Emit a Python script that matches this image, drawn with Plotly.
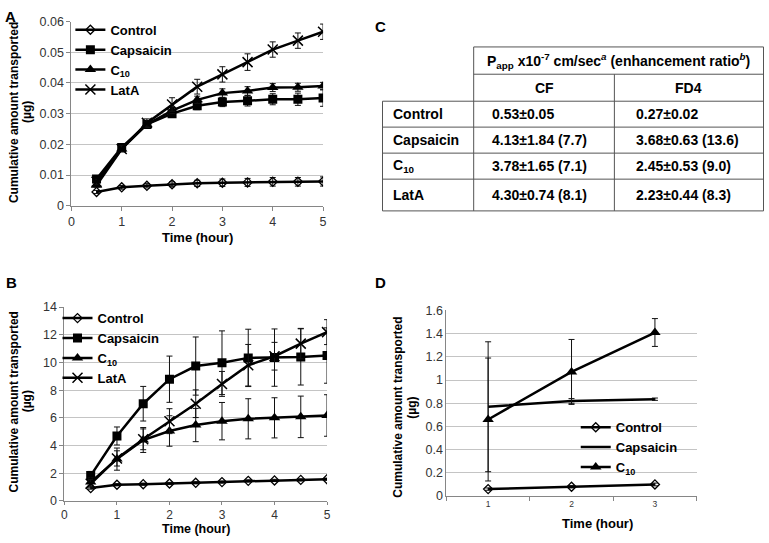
import plotly.graph_objects as go

W, H = 769, 543
FONT = "Liberation Sans"

# ---------------- data ----------------
time_ab = [0.5, 1, 1.5, 2, 2.5, 3, 3.5, 4, 4.5, 5]

a_control = [0.0045, 0.0060, 0.0065, 0.0070, 0.0073, 0.0075, 0.0076, 0.0078, 0.0078, 0.0079]
a_control_err = [0.0005, 0.0006, 0.0007, 0.0008, 0.0010, 0.0012, 0.0013, 0.0014, 0.0014, 0.0015]
a_capsaicin = [0.0087, 0.0190, 0.0265, 0.0300, 0.0326, 0.0338, 0.0342, 0.0347, 0.0347, 0.0351]
a_capsaicin_err = [0.0008, 0.0010, 0.0012, 0.0012, 0.0013, 0.0015, 0.0017, 0.0018, 0.0020, 0.0027]
a_c10 = [0.0067, 0.0185, 0.0265, 0.0310, 0.0345, 0.0367, 0.0374, 0.0385, 0.0386, 0.0390]
a_c10_err = [0.0006, 0.0008, 0.0010, 0.0010, 0.0012, 0.0014, 0.0014, 0.0013, 0.0013, 0.0012]
a_lata = [0.0078, 0.0185, 0.0270, 0.0330, 0.0388, 0.0428, 0.0468, 0.0509, 0.0538, 0.0567]
a_lata_err = [0.0008, 0.0010, 0.0013, 0.0022, 0.0024, 0.0025, 0.0027, 0.0025, 0.0025, 0.0025]

b_control = [0.93, 1.17, 1.21, 1.26, 1.31, 1.36, 1.45, 1.48, 1.52, 1.57]
b_control_err = [0.08, 0.08, 0.08, 0.08, 0.08, 0.08, 0.08, 0.08, 0.08, 0.08]
b_capsaicin = [1.83, 4.69, 7.02, 8.79, 9.74, 9.98, 10.33, 10.35, 10.40, 10.50]
b_capsaicin_err = [0.30, 0.65, 1.25, 1.67, 2.10, 2.30, 2.07, 2.07, 2.03, 2.00]
b_c10 = [1.36, 3.02, 4.40, 5.05, 5.48, 5.76, 5.93, 6.00, 6.07, 6.17]
b_c10_err = [0.30, 0.80, 0.90, 1.10, 1.20, 1.35, 1.45, 1.45, 1.50, 1.50]
b_lata = [1.24, 3.07, 4.45, 5.76, 7.02, 8.45, 9.80, 10.45, 11.36, 12.19]
b_lata_err = [0.30, 0.55, 0.75, 0.90, 1.00, 0.90, 1.50, 1.00, 1.10, 0.90]

time_d = [1, 2, 3]
d_control = [0.06, 0.08, 0.10]
d_control_err = [0.01, 0.01, 0.012]
d_capsaicin = [0.77, 0.82, 0.835]
d_capsaicin_err = [0.56, 0.02, 0.01]
d_c10 = [0.66, 1.07, 1.41]
d_c10_err = [0.53, 0.28, 0.12]

series_names = ["Control", "Capsaicin", "C<sub>10</sub>", "LatA"]

table_header = "P<sub>app</sub> x10<sup>-7</sup> cm/sec<sup><i>a</i></sup> (enhancement ratio<sup><i>b</i></sup>)"
table_cols = ["CF", "FD4"]
table_rows = ["Control", "Capsaicin", "C<sub>10</sub>", "LatA"]
table_cf = ["0.53±0.05", "4.13±1.84 (7.7)", "3.78±1.65 (7.1)", "4.30±0.74 (8.1)"]
table_fd4 = ["0.27±0.02", "3.68±0.63 (13.6)", "2.45±0.53 (9.0)", "2.23±0.44 (8.3)"]

# ---------------- helpers ----------------
def px(x):
    return x / W

def py(y):
    return 1 - y / H

markers = {
    "Control": dict(symbol="diamond-open", size=7, color="black", line=dict(color="black", width=1.3)),
    "Capsaicin": dict(symbol="square", size=9, color="black"),
    "C<sub>10</sub>": dict(symbol="triangle-up", size=10, color="black"),
    "LatA": dict(symbol="x-thin", size=10, color="black", line=dict(color="black", width=1.5)),
}

fig = go.Figure()

def add_series(x, y, err, name, xa, ya, legend, mode="lines+markers"):
    fig.add_trace(go.Scatter(
        x=x, y=y, name=name, mode=mode,
        line=dict(color="black", width=2.5),
        marker=markers[name],
        error_y=dict(type="data", array=err, color="#111", thickness=1, width=3),
        xaxis=xa, yaxis=ya, legend=legend,
    ))

for name, y, e in zip(series_names, [a_control, a_capsaicin, a_c10, a_lata],
                      [a_control_err, a_capsaicin_err, a_c10_err, a_lata_err]):
    add_series(time_ab, y, e, name, "x", "y", "legend")

for name, y, e in zip(series_names, [b_control, b_capsaicin, b_c10, b_lata],
                      [b_control_err, b_capsaicin_err, b_c10_err, b_lata_err]):
    add_series(time_ab, y, e, name, "x2", "y2", "legend2")

add_series(time_d, d_control, d_control_err, "Control", "x3", "y3", "legend3")
add_series(time_d, d_capsaicin, d_capsaicin_err, "Capsaicin", "x3", "y3", "legend3", mode="lines")
add_series(time_d, d_c10, d_c10_err, "C<sub>10</sub>", "x3", "y3", "legend3")

axis_common = dict(showline=True, linecolor="#868686", linewidth=1, zeroline=False,
                   ticks="outside", tickcolor="#868686", ticklen=4, fixedrange=True)

def xax(domain, rng, size, **kw):
    d = dict(axis_common, domain=domain, range=rng, showgrid=False,
             tickfont=dict(family=FONT, size=size, color="#333"))
    d.update(kw)
    return d

def yax(domain, rng, dtick, size, **kw):
    d = dict(axis_common, domain=domain, range=rng, dtick=dtick, showgrid=True,
             gridcolor="#c4c4c4", gridwidth=1,
             tickfont=dict(family=FONT, size=size, color="#333"))
    d.update(kw)
    return d

legend_common = dict(bgcolor="rgba(255,255,255,0)", borderwidth=0, xanchor="left", yanchor="top",
                     font=dict(family=FONT, size=13, color="black", weight="bold"),
                     tracegroupgap=0, itemwidth=30, traceorder="normal")

fig.update_layout(
    width=W, height=H, margin=dict(l=0, r=0, t=0, b=0),
    paper_bgcolor="white", plot_bgcolor="white",
    font=dict(family=FONT, color="black"),
    xaxis=xax([px(69), px(323)], [0, 5], 12.5, dtick=1, anchor="y"),
    yaxis=yax([py(204), py(15)], [0, 0.06000001], 0.01, 12.5, anchor="x"),
    xaxis2=xax([px(62), px(327)], [0, 5], 12, dtick=1, anchor="y2", ticklen=3),
    yaxis2=yax([py(507), py(308)], [0, 14], 2, 12.5, anchor="x2"),
    xaxis3=xax([px(447.5), px(700)], [0.5, 3.5], 8.5, tickvals=time_d, ticks="", anchor="y3",
               minor=dict(tickvals=[0.5, 1.5, 2.5, 3.5], ticks="outside", ticklen=4, tickcolor="#868686")),
    yaxis3=yax([py(502), py(311.5)], [0, 1.6000001], 0.2, 12.5, anchor="x3", ticks=""),
    legend=dict(legend_common, x=px(68), y=py(8)),
    legend2=dict(legend_common, x=px(55), y=py(304)),
    legend3=dict(legend_common, x=px(578), y=py(416)),
    showlegend=True,
)

ann = []
def text(x, y, s, size=12, bold=True, angle=0, xanchor="center", color="black"):
    ann.append(dict(x=px(x), y=py(y), xref="paper", yref="paper", text=s, showarrow=False,
                    textangle=angle, xanchor=xanchor, yanchor="middle",
                    font=dict(family=FONT, size=size, color=color, weight="bold" if bold else "normal")))

# panel letters
text(8, 10, "A", 15)
text(9, 283, "B", 15)
text(381, 20, "C", 15)
text(381, 283, "D", 15)

# axis titles
ytitle1 = "Cumulative amount transported"
ytitle2 = "(µg)"
text(11, 108, ytitle1, 12, angle=-90)
text(24, 108, ytitle2, 12, angle=-90)
text(11, 405, ytitle1, 12, angle=-90)
text(24, 405, ytitle2, 12, angle=-90)
text(399, 411, ytitle1, 12, angle=-90)
text(413, 411, ytitle2, 12, angle=-90)
text(196, 237, "Time (hour)", 13)
text(195, 536, "Time (hour)", 12.5)
text(600, 530, "Time (hour)", 13)

# table
col_x = [383, 475, 617, 767.5]
row_y = [96.7, 123.3, 150, 176.7, 209.3]
shapes = []
def seg(x0, y0, x1, y1):
    shapes.append(dict(type="line", xref="paper", yref="paper", x0=px(x0), y0=py(y0), x1=px(x1), y1=py(y1),
                       line=dict(color="#555", width=1)))

seg(col_x[1], 41, col_x[3], 41)
seg(col_x[1], 69, col_x[3], 69)
for ry in row_y:
    seg(col_x[0], ry, col_x[3], ry)
seg(col_x[0], row_y[0], col_x[0], row_y[-1])
seg(col_x[1], 41, col_x[1], row_y[-1])
seg(col_x[2], 69, col_x[2], row_y[-1])
seg(col_x[3], 41, col_x[3], row_y[-1])

text((col_x[1] + col_x[3]) / 2, 55, table_header, 14)
text((col_x[1] + col_x[2]) / 2, 83, table_cols[0], 14)
text((col_x[2] + col_x[3]) / 2, 83, table_cols[1], 14)
for i, (r, cf, fd) in enumerate(zip(table_rows, table_cf, table_fd4)):
    yc = (row_y[i] + row_y[i + 1]) / 2
    text(392, yc, r, 14, xanchor="left")
    text(491.5, yc, cf, 14, xanchor="left")
    text(636.5, yc, fd, 14, xanchor="left")

fig.update_layout(annotations=ann, shapes=shapes)

fig.write_html("out.html", config={"displayModeBar": False},
               post_script="document.body.style.margin='0';document.body.style.overflow='hidden';")
